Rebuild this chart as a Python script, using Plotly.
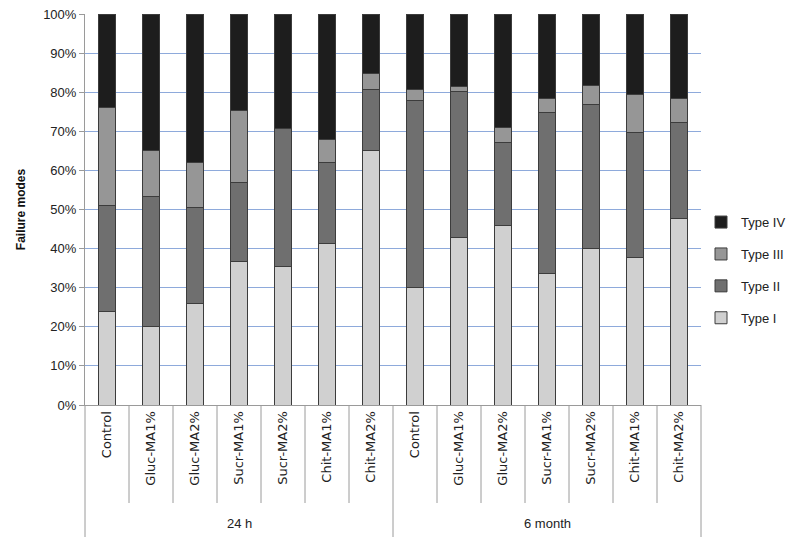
import plotly.graph_objects as go

categories = ["Control", "Gluc-MA1%", "Gluc-MA2%", "Sucr-MA1%", "Sucr-MA2%", "Chit-MA1%", "Chit-MA2%"]
groups = ["24 h", "6 month"]

type_i   = [24.0, 20.0, 26.0, 36.7, 35.4, 41.4, 65.0, 30.1, 42.9, 46.0, 33.7, 40.1, 37.8, 47.7]
type_ii  = [27.0, 33.3, 24.6, 20.2, 35.4, 20.7, 15.6, 47.9, 37.2, 21.1, 41.2, 36.8, 31.9, 24.6]
type_iii = [25.0, 11.7, 11.4, 18.4, 0.0, 5.7, 4.1, 2.7, 1.3, 3.9, 3.5, 4.7, 9.6, 6.1]
type_iv  = [24.0, 35.0, 38.0, 24.7, 29.2, 32.2, 15.3, 19.3, 18.6, 29.0, 21.6, 18.4, 20.7, 21.6]

series = [
    ("Type I", type_i, "#d0d0d0", 4),
    ("Type II", type_ii, "#6f6f6f", 3),
    ("Type III", type_iii, "#969696", 2),
    ("Type IV", type_iv, "#1d1d1d", 1),
]

n_cat = len(categories)
n = n_cat * len(groups)
xs = list(range(n))
ticktext = categories * len(groups)

fig = go.Figure()
for name, vals, col, rank in series:
    fig.add_trace(go.Bar(
        x=xs, y=vals, name=name, legendgroup=name, legendrank=rank,
        marker=dict(color=col, line=dict(color="#3c3c3c", width=1)),
        width=0.39,
    ))

PLOT_H = 391.0
def py(px):
    return -px / PLOT_H

shapes = []
for i in range(n + 1):
    full = (i % n_cat == 0)
    shapes.append(dict(type="line", xref="paper", yref="paper",
                       x0=i / n, x1=i / n, y0=0, y1=py(132 if full else 98),
                       line=dict(color="#9a9a9a", width=1)))

annotations = []
for g, name in enumerate(groups):
    annotations.append(dict(x=g * n_cat + (n_cat - 1) / 2, xref="x", y=py(118), yref="paper",
                            text=name, showarrow=False,
                            font=dict(family="Liberation Sans Narrow, Liberation Sans, Arial", size=13, color="#222"),
                            xanchor="center", yanchor="middle"))

fig.update_layout(
    width=800, height=546,
    margin=dict(l=85, r=99, t=14, b=141, autoexpand=False),
    barmode="stack",
    plot_bgcolor="white", paper_bgcolor="white",
    shapes=shapes, annotations=annotations,
    legend=dict(x=1.0, y=0.345, xanchor="left", yanchor="middle",
                traceorder="grouped", tracegroupgap=12,
                font=dict(family="Liberation Sans, Arial", size=13, color="#222")),
    xaxis=dict(
        range=[-0.5, n - 0.5], tickvals=xs, ticktext=ticktext, tickangle=-90,
        showgrid=False, showline=True, linecolor="#9a9a9a", linewidth=1,
        ticks="", zeroline=False, fixedrange=True, automargin=False,
        tickfont=dict(family="DejaVu Sans, Verdana", size=13, color="#222"),
    ),
    yaxis=dict(
        range=[0, 100], dtick=10, ticksuffix="%",
        showgrid=True, gridcolor="#8eaadb", gridwidth=1,
        showline=True, linecolor="#9a9a9a", linewidth=1,
        ticks="outside", ticklen=5, tickcolor="#9a9a9a",
        zeroline=False, automargin=False,
        tickfont=dict(family="Liberation Sans Narrow, Liberation Sans, Arial", size=13, color="#222"),
        title=dict(text="<b>Failure modes</b>", standoff=14,
                   font=dict(family="Liberation Sans, Arial", size=12, color="#111")),
    ),
)

fig.write_html("out.html", config={"displayModeBar": False},
               post_script="document.body.style.margin='0';document.body.style.overflow='hidden';")
